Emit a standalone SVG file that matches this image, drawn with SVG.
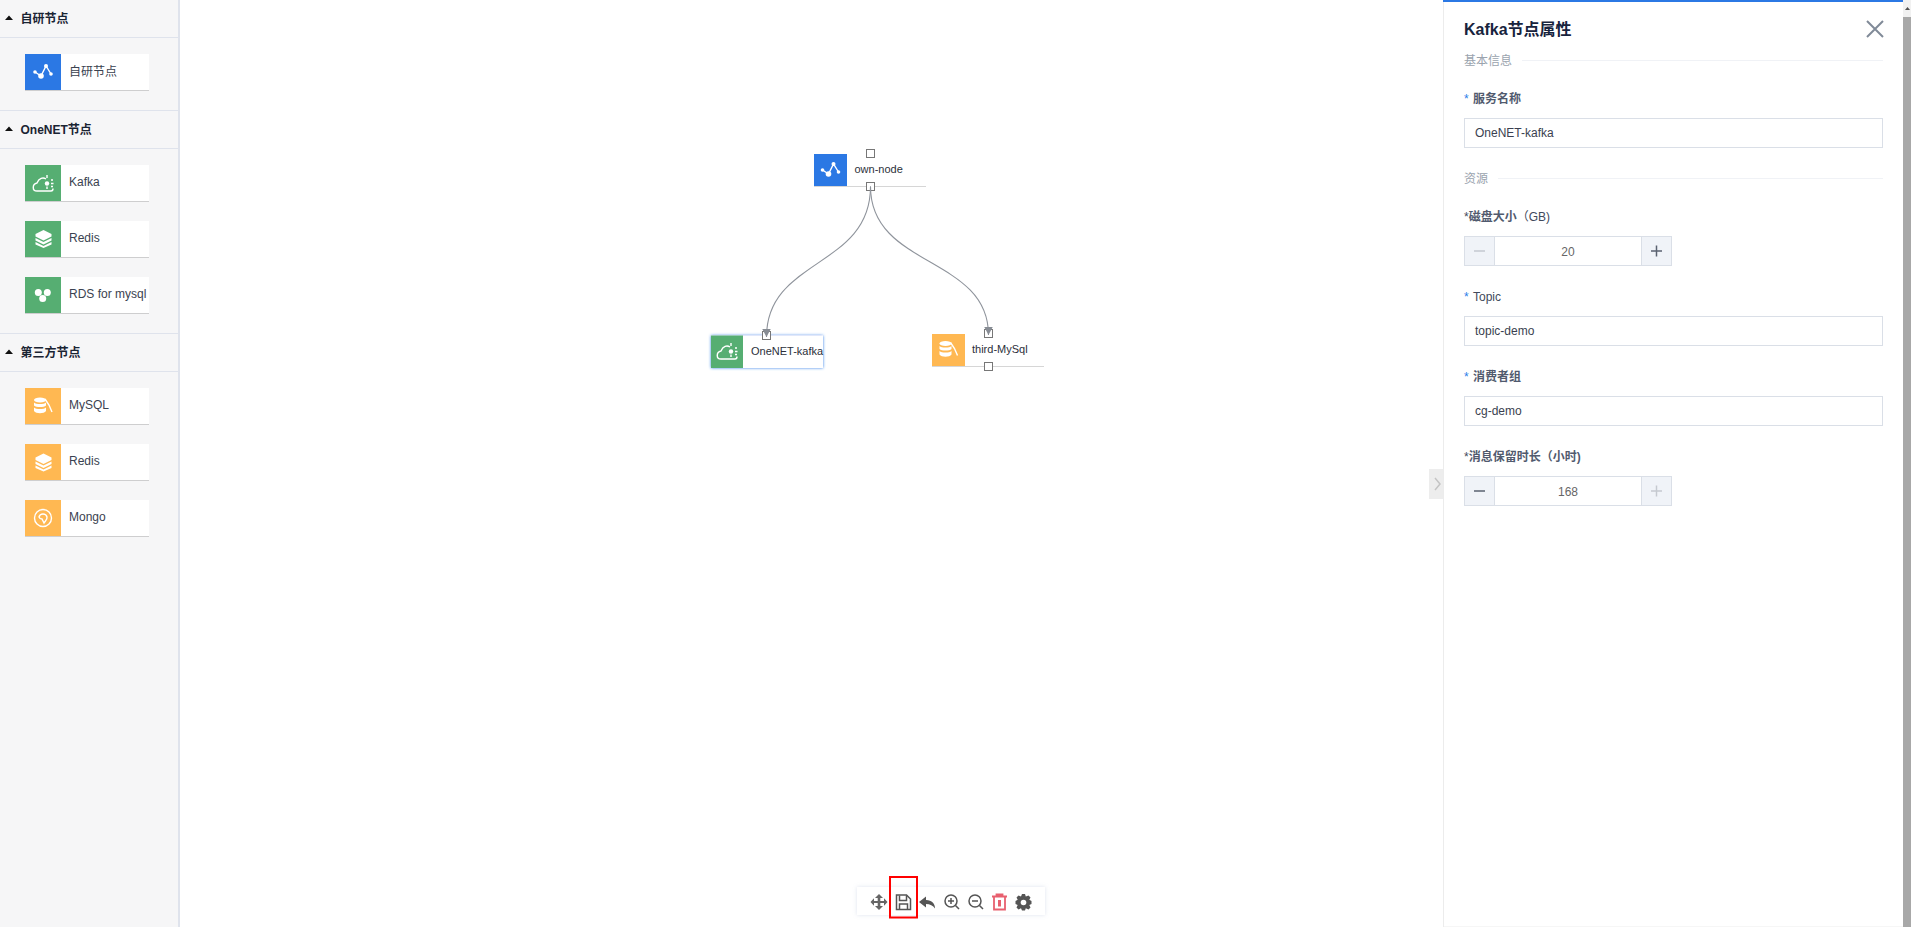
<svg xmlns="http://www.w3.org/2000/svg" width="1911" height="927" viewBox="0 0 1911 927">
<style>
text{font-family:"Liberation Sans","Noto Sans CJK SC",sans-serif}
.hd{font-size:12px;font-weight:700;fill:#1a2433}
.lb{font-size:12px;fill:#3a4250}
.cl{font-size:11px;fill:#2b2f3a}
.sec{font-size:12px;fill:#9aa3ae}
.fl{font-size:12px;fill:#414a5c}
.b{font-weight:700;fill:#515a6e}
.star{font-size:12px;fill:#2b7de9}
.val{font-size:12px;fill:#3a3f50}
.num{font-size:12px;fill:#666;text-anchor:middle}
.ln{stroke:#dfe3ec;stroke-width:1;fill:none}
.card{fill:#fff;filter:url(#sh)}
.inp{fill:#fff;stroke:#dadfe7;stroke-width:1}
.stp{fill:#f0f3f8;stroke:#dadfe7;stroke-width:1}
.port{fill:#fff;stroke:#777;stroke-width:1}
.ic{fill:none;stroke:#fff;stroke-width:1.400}
.icf{fill:#fff}
.conn{fill:none;stroke:#8f949c;stroke-width:1.100}
.tb{fill:none;stroke:#555;stroke-width:1.500}
</style>
<defs>
<filter id="sh" x="-5%" y="-10%" width="110%" height="125%"><feDropShadow dx="0" dy="1" stdDeviation="0.700" flood-color="#000" flood-opacity="0.160"/></filter>
<filter id="glow" x="-5%" y="-15%" width="110%" height="130%"><feDropShadow dx="0" dy="0" stdDeviation="1.500" flood-color="#2d7de9" flood-opacity="1"/></filter>
<filter id="tbs" x="-5%" y="-20%" width="110%" height="140%"><feDropShadow dx="0" dy="0" stdDeviation="2" flood-color="#9fb0d0" flood-opacity="0.350"/></filter>
<marker id="arr" markerWidth="10" markerHeight="9" refX="8.500" refY="4.500" orient="auto" markerUnits="userSpaceOnUse"><path d="M0 0L8.500 4.500L0 9Z" fill="#878c94"/></marker>
<g id="i-net"><path class="ic" d="M-8 0L-2 4L3 -6L8 2" stroke-width="1.600"/><circle class="icf" cx="-8" cy="0" r="1.800"/><circle class="icf" cx="-2" cy="4" r="2.800"/><circle class="icf" cx="3" cy="-6" r="2"/><circle class="icf" cx="8" cy="2" r="1.800"/></g>
<g id="i-cloud"><path class="ic" d="M2 8H-6C-11 8 -11 1 -6 0C-4 -5 0 -6 3 -4M2 8H8C9.500 8 10 7 10 5.500"/><circle class="icf" cx="4" cy="0.500" r="2.200"/><path class="ic" d="M4 -8V-5M4 6V3.500M8 -3H10M8 0.500H10.500M8 3.500H10"/></g>
<g id="i-stack"><path class="icf" d="M0 -8.500L8 -4.500V-2L0 2L-8 -2V-4.500Z"/><path class="icf" d="M-8 -0.500L0 3.500L8 -0.500V2L0 6L-8 2Z"/><path class="icf" d="M-8 3.500L0 7.500L8 3.500V6L0 9.500L-8 6Z"/></g>
<g id="i-rds"><circle class="icf" cx="-4.700" cy="-2.500" r="3.500"/><circle class="icf" cx="4.300" cy="-2.500" r="3.500"/><circle class="icf" cx="-0.300" cy="3.500" r="3.500"/></g>
<g id="i-mysql"><ellipse class="icf" cx="-3" cy="-6" rx="6" ry="2.500"/><path class="icf" d="M-9 -3.500C-7 -1.500 1 -1.500 3 -3.500V-0.500C1 1.500 -7 1.500 -9 -0.500Z"/><path class="icf" d="M-9 1.500C-7 3.500 1 3.500 3 1.500V5C1 8 -7 8 -9 5Z"/><path class="ic" d="M2 -7L6 -1L9 6" stroke-width="2.200"/></g>
<g id="i-mongo"><circle class="ic" cx="0" cy="0" r="8.500"/><path class="ic" stroke-width="1.800" d="M-4 -1C-3 -5 3 -5 4 -1C4.500 2 2 3 1 5L-1 1C-2 1 -3.500 0.500 -4 -1Z"/></g>
</defs>
<rect width="1911" height="927" fill="#fff"/>

<g id="sidebar">
<rect x="0" y="0" width="179" height="927" fill="#f6f6f7"/>
<path d="M179 0V927" stroke="#dfe3ec" stroke-width="2"/>
<path class="ln" d="M0 37.500H178M0 110.500H178M0 148.500H178M0 333.500H178M0 371.500H178"/>
<path d="M5 20L9 15.500L13 20Z M5 131L9 126.500L13 131Z M5 354L9 349.500L13 354Z" fill="#111"/>
<text class="hd" x="20.500" y="23">自研节点</text>
<text class="hd" x="20.500" y="134">OneNET节点</text>
<text class="hd" x="20.500" y="357">第三方节点</text>
</g>

<g id="pal-own"><rect class="card" x="25" y="54" width="124" height="36"/><rect x="25" y="54" width="36" height="36" fill="#2b78e4"/><use href="#i-net" x="43" y="72"/><text class="lb" x="69" y="76">自研节点</text></g>
<g id="pal-kafka"><rect class="card" x="25" y="165" width="124" height="36"/><rect x="25" y="165" width="36" height="36" fill="#56ae72"/><use href="#i-cloud" x="43" y="183"/><text class="lb" x="69" y="186">Kafka</text></g>
<g id="pal-redis"><rect class="card" x="25" y="221" width="124" height="36"/><rect x="25" y="221" width="36" height="36" fill="#56ae72"/><use href="#i-stack" x="43.500" y="238.500"/><text class="lb" x="69" y="242">Redis</text></g>
<g id="pal-rds"><rect class="card" x="25" y="277" width="124" height="36"/><rect x="25" y="277" width="36" height="36" fill="#56ae72"/><use href="#i-rds" x="43" y="295"/><text class="lb" x="69" y="298">RDS for mysql</text></g>
<g id="pal-mysql"><rect class="card" x="25" y="388" width="124" height="36"/><rect x="25" y="388" width="36" height="36" fill="#ffb852"/><use href="#i-mysql" x="43" y="406"/><text class="lb" x="69" y="409">MySQL</text></g>
<g id="pal-redis2"><rect class="card" x="25" y="444" width="124" height="36"/><rect x="25" y="444" width="36" height="36" fill="#ffb852"/><use href="#i-stack" x="43.500" y="462"/><text class="lb" x="69" y="465">Redis</text></g>
<g id="pal-mongo"><rect class="card" x="25" y="500" width="124" height="36"/><rect x="25" y="500" width="36" height="36" fill="#ffb852"/><use href="#i-mongo" x="43" y="518"/><text class="lb" x="69" y="521">Mongo</text></g>

<g id="node-own"><rect class="card" x="814" y="154" width="112" height="32"/><rect x="814" y="154" width="33" height="32" fill="#2b78e4"/><use href="#i-net" x="830.500" y="170"/><text class="cl" x="854.500" y="173">own-node</text><rect class="port" x="866.500" y="149.500" width="8" height="8"/><rect class="port" x="866.500" y="182.500" width="8" height="8"/></g>
<g id="node-kafka"><rect x="711" y="335.500" width="112" height="32.500" fill="#fff" filter="url(#glow)"/><rect x="711" y="335.500" width="32" height="32.500" fill="#56ae72"/><use href="#i-cloud" x="727" y="351"/><text class="cl" x="751" y="355">OneNET-kafka</text><rect class="port" x="762.500" y="331.500" width="8" height="8"/></g>
<g id="node-mysql"><rect class="card" x="932" y="334" width="112" height="32"/><rect x="932" y="334" width="33" height="32" fill="#ffb852"/><use href="#i-mysql" x="948.500" y="349.500"/><text class="cl" x="972" y="353">third-MySql</text><rect class="port" x="984.500" y="329.500" width="8" height="8"/><rect class="port" x="984.500" y="362.500" width="8" height="8"/></g>

<g id="connectors">
<path class="conn" marker-end="url(#arr)" d="M870.500 186.500C870.500 268 766.500 258 766.500 337"/>
<path class="conn" marker-end="url(#arr)" d="M870.500 186.500C870.500 268 988.500 256 988.500 335"/>
</g>

<g id="toolbar">
<rect x="857" y="887" width="188" height="28" fill="#fff" filter="url(#tbs)"/>
<path fill="#666" d="M879 894L883 898H880.300V901H884V898.200L887.500 902L884 905.800V903H880.300V906H883L879 910L875 906H877.700V903H874V905.800L870.500 902L874 898.200V901H877.700V898H875Z"/>
<g class="tb"><path d="M896.500 895H906.500L910.500 899V909.500H896.500Z"/><path d="M899.500 895.500V900.500H906.500V895.500M899.500 909.500V904H907.500V909.500"/></g>
<path d="M919 902L926 896.500V900C932 900 935 904 935 908.500C933 905.500 930 904 926 904V907.500Z" fill="#555"/>
<g class="tb"><circle cx="951" cy="901" r="6"/><path d="M955.500 905.500L959 909M948 901H954M951 898V904"/><circle cx="975" cy="901" r="6"/><path d="M979.500 905.500L983 909M972 901H978"/></g>
<g fill="none" stroke="#e8606f" stroke-width="1.800"><path d="M992 896.500H1007M996.500 896.500V894.500H1002.500V896.500M994 897V909.500H1005V897"/><path d="M999.500 900V906.500" stroke-width="3"/></g>
<path fill="#555" d="M1022 894H1025L1025.800 896.500L1028.500 895.500L1030.500 897.500L1029.300 899.800L1031.500 901V904L1029.300 905L1030.500 907.500L1028.500 909.500L1025.800 908.300L1025 910.500H1022L1021 908.300L1018.500 909.500L1016.500 907.500L1017.700 905L1015.500 904V901L1017.700 899.800L1016.500 897.500L1018.500 895.500L1021 896.500Z"/><circle cx="1023.500" cy="902.500" r="2.800" fill="#fff"/>
<rect x="890" y="877" width="27" height="40.500" fill="none" stroke="#f00" stroke-width="2"/>
</g>

<g id="panel">
<rect x="1443.500" y="0" width="460" height="927" fill="#fff" stroke="#ececec"/>
<rect x="1443" y="0" width="460" height="2" fill="#2b78e4"/>
<rect x="1429" y="469" width="14" height="30" fill="#ededed"/>
<path d="M1435 478L1440 484L1435 490" fill="none" stroke="#c4c4c4" stroke-width="1.500"/>
<text x="1464" y="35" style="font-size:16px;font-weight:700;fill:#17233d">Kafka节点属性</text>
<path d="M1867 21L1883 37M1883 21L1867 37" stroke="#808a98" stroke-width="2" fill="none"/>
<text class="sec" x="1464" y="65">基本信息</text><path d="M1522 60.500H1883" stroke="#f0f2f6"/>
<text class="star" x="1464" y="103">*</text><text class="fl b" x="1473" y="103">服务名称</text>
<rect class="inp" x="1464.500" y="118.500" width="418" height="29"/><text class="val" x="1475" y="137">OneNET-kafka</text>
<text class="sec" x="1464" y="183">资源</text><path d="M1498 178.500H1883" stroke="#f0f2f6"/>
<text class="fl" x="1464" y="221">*<tspan class="b">磁盘大小</tspan>（GB)</text>
<rect class="stp" x="1464.500" y="236.500" width="30" height="29"/><rect class="inp" x="1494.500" y="236.500" width="147" height="29"/><rect class="stp" x="1641.500" y="236.500" width="30" height="29"/>
<path d="M1474 251H1485" stroke="#c5c9d0" stroke-width="1.500"/><path d="M1651 251H1662M1656.500 245.500V256.500" stroke="#5a6270" stroke-width="1.500"/>
<text class="num" x="1568" y="256">20</text>
<text class="star" x="1464" y="301">*</text><text class="fl" x="1473" y="301">Topic</text>
<rect class="inp" x="1464.500" y="316.500" width="418" height="29"/><text class="val" x="1475" y="335">topic-demo</text>
<text class="star" x="1464" y="381">*</text><text class="fl b" x="1473" y="381">消费者组</text>
<rect class="inp" x="1464.500" y="396.500" width="418" height="29"/><text class="val" x="1475" y="415">cg-demo</text>
<text class="fl" x="1464" y="461">*<tspan class="b">消息保留时长（小时)</tspan></text>
<rect class="stp" x="1464.500" y="476.500" width="30" height="29"/><rect class="inp" x="1494.500" y="476.500" width="147" height="29"/><rect class="stp" x="1641.500" y="476.500" width="30" height="29"/>
<path d="M1474 491H1485" stroke="#5a6270" stroke-width="1.500"/><path d="M1651 491H1662M1656.500 485.500V496.500" stroke="#c5c9d0" stroke-width="1.500"/>
<text class="num" x="1568" y="496">168</text>
</g>

<g id="scrollbar">
<rect x="1903" y="0" width="8" height="927" fill="#f1f1f1"/>
<rect x="1903" y="17" width="8" height="910" fill="#a8a8a8"/>
<path d="M1905 10L1907.500 7L1910 10Z" fill="#505050"/>
</g>
</svg>
